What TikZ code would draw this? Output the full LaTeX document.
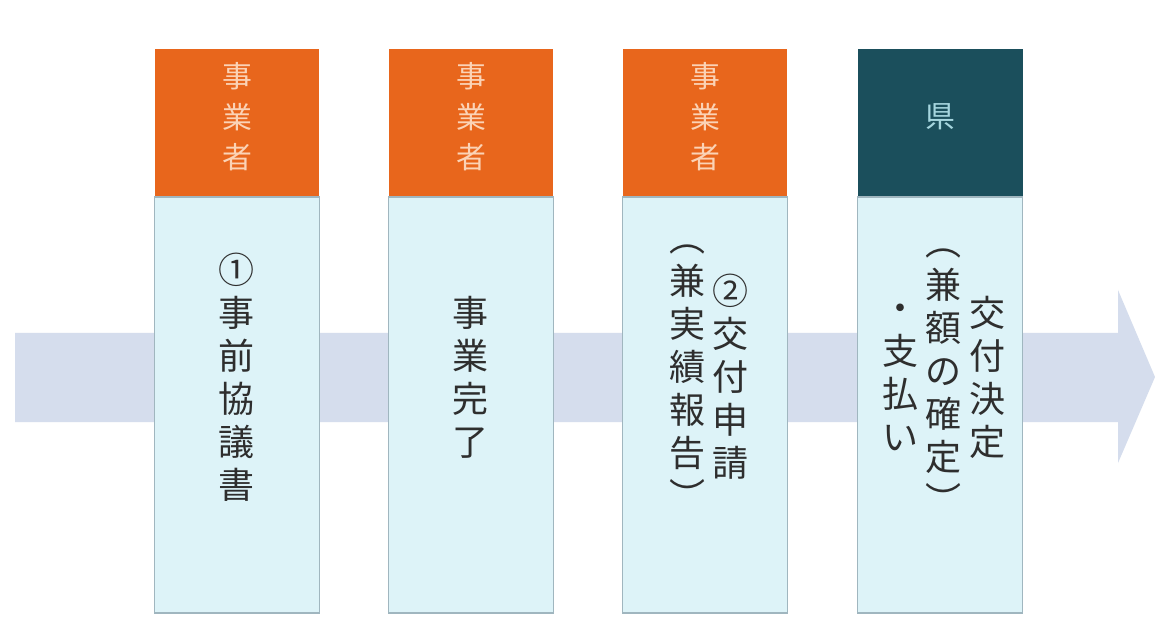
\documentclass[tikz,border=0pt]{standalone}
\usepackage{fontspec}
\newfontfamily\jpfont{Noto Sans CJK JP}
\usepackage{xcolor}
\usetikzlibrary{positioning}

\definecolor{stepOrange}{HTML}{E8661C}
\definecolor{stepTeal}{HTML}{1B4F5C}
\definecolor{stepBody}{HTML}{DDF3F8}
\definecolor{stepLine}{HTML}{A0B6BF}
\definecolor{flowBand}{HTML}{D5DDED}
\definecolor{orangeLabel}{HTML}{FBD3B6}
\definecolor{tealLabel}{HTML}{A6D6DF}
\definecolor{bodyLabel}{HTML}{2E2E2E}

\begin{document}
\begin{tikzpicture}[x=0.02cm,y=-0.02cm,
  header/.style={minimum width=3.3cm,minimum height=2.96cm,inner sep=0pt,outer sep=0pt},
  headtext/.style={align=center,inner sep=0pt,font={\jpfont\fontsize{17}{23}\selectfont}},
  stepbody/.style={draw=stepLine,line width=0.8pt,fill=stepBody,minimum width=3.3cm,minimum height=8.32cm,
    inner sep=0pt,outer sep=0pt},
  vtext/.style={align=center,inner sep=0pt,text=bodyLabel,font={\jpfont\fontsize{20.5}{24.5}\selectfont}}]

\useasboundingbox[fill=white] (0,0) rectangle (1155,624);

% Flow arrow behind the steps
\fill[flowBand] (15,333) -- (1118,333) -- (1118,290) -- (1155,377) -- (1118,463) -- (1118,422) -- (15,422) -- cycle;
\coordinate (mid) at (0,377);
\coordinate (top) at (0,117);

% Step headers
\node[header,fill=stepOrange] (h1) at (237,123) {};
\node[header,fill=stepOrange] (h2) at (471,123) {};
\node[header,fill=stepOrange] (h3) at (705,123) {};
\node[header,fill=stepTeal] (h4) at (940,123) {};
\node[headtext,text=orangeLabel] (l1) at (h1 |- top) {事\\業\\者};
\node[headtext,text=orangeLabel] (l2) at (h2 |- top) {事\\業\\者};
\node[headtext,text=orangeLabel] (l3) at (h3 |- top) {事\\業\\者};
\node[headtext,text=tealLabel] (l4) at (h4 |- top) {県};

% Step bodies
\node[stepbody,below=0pt of h1] (b1) {};
\node[stepbody,below=0pt of h2] (b2) {};
\node[stepbody,below=0pt of h3] (b3) {};
\node[stepbody,below=0pt of h4] (b4) {};

% Vertical texts (columns read right to left)
\node[vtext] (t1) at (b1 |- mid) {①\\事\\前\\協\\議\\書};
\node[vtext] (t2) at (b2 |- mid) {事\\業\\完\\了};
\node[vtext] (t3a) at (730,377) {②\\交\\付\\申\\請};
\node[vtext] (t3b) at (687,377) {︵\\兼\\実\\績\\報\\告\\︶};
\node[vtext] (t4a) at (987,377) {交\\付\\決\\定};
\node[vtext] (t4b) at (943,381) {︵\\兼\\額\\の\\確\\定\\︶};
\node[vtext] (t4c) at (900,377) {・\\支\\払\\い};
\end{tikzpicture}
\end{document}
